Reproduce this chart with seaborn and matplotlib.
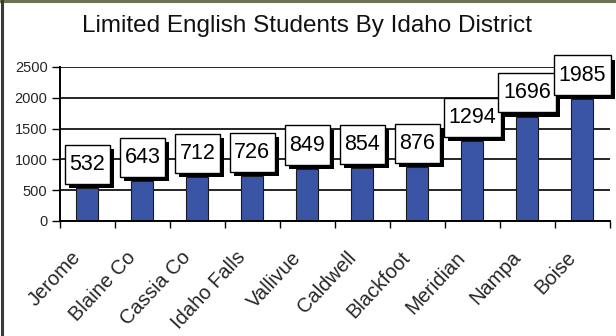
import matplotlib
matplotlib.use("Agg")
import matplotlib.pyplot as plt
import matplotlib.patheffects as pe
import matplotlib.transforms as mtransforms
from matplotlib.path import Path
from matplotlib.lines import Line2D
import seaborn as sns
import pandas as pd
import numpy as np

districts = ["Jerome", "Blaine Co", "Cassia Co", "Idaho Falls", "Vallivue",
             "Caldwell", "Blackfoot", "Meridian", "Nampa", "Boise"]
students = [532, 643, 712, 726, 849, 854, 876, 1294, 1696, 1985]
y_ticks = [0, 500, 1000, 1500, 2000, 2500]
title = "Limited English Students By Idaho District"

df = pd.DataFrame({"district": districts, "students": students})

sns.set_theme(style="white")
plt.rcParams["font.family"] = ["Liberation Sans", "DejaVu Sans"]

fig = plt.figure(figsize=(6.16, 3.36), dpi=100)
fig.patch.set_facecolor("white")
ax = fig.add_axes([60 / 616, 1 - 221 / 336, 549.5 / 616, 154 / 336])

sns.barplot(data=df, x="district", y="students", color="#3b55a6",
            saturation=1, width=0.4, edgecolor="#1a1a1a", linewidth=0.8,
            ax=ax, zorder=2)

ax.set_xlim(-0.5, len(districts) - 0.5)
ax.set_ylim(0, 2500)
ax.set_yticks(y_ticks)
ax.set_yticklabels([str(t) for t in y_ticks], fontsize=10.5)
ax.set_xlabel("")
ax.set_ylabel("")

# horizontal gridlines
ax.set_axisbelow(True)
ax.yaxis.grid(True, color="black", linewidth=1.2)
ax.xaxis.grid(False)

for side in ("top", "right"):
    ax.spines[side].set_visible(False)
for side in ("left", "bottom"):
    ax.spines[side].set_color("black")
    ax.spines[side].set_linewidth(1.4)

# category labels, tick marks at the category boundaries
ax.set_xticks(np.arange(len(districts)))
ax.set_xticklabels(districts, rotation=47, ha="right", va="center",
                   rotation_mode="anchor", fontsize=14.5)
ax.tick_params(axis="x", which="major", length=0, pad=24)
shift = mtransforms.ScaledTranslation(-7 / 72, 0, fig.dpi_scale_trans)
for lab in ax.get_xticklabels():
    lab.set_transform(lab.get_transform() + shift)
ax.set_xticks(np.arange(len(districts) + 1) - 0.5, minor=True)
ax.tick_params(axis="x", which="minor", length=5, width=1, color="black",
               direction="out", bottom=True)
ax.tick_params(axis="y", length=6, width=1, color="black", direction="out",
               left=True, pad=3)


def tall_box(x0, y0, width, height, mutation_size):
    px, py = 0.22 * mutation_size, 0.42 * mutation_size
    x0, y0 = x0 - px, y0 - py
    x1, y1 = x0 + width + 2 * px, y0 + height + 2 * py
    return Path([(x0, y0), (x1, y0), (x1, y1), (x0, y1), (x0, y0)],
                closed=True)


# value boxes with a drop shadow, sitting on top of each bar
for i, v in enumerate(students):
    ann = ax.annotate(str(v), xy=(i, v), xytext=(0, 9.5),
                      textcoords="offset points", ha="center", va="bottom",
                      fontsize=15.5, color="black", zorder=5,
                      annotation_clip=False,
                      bbox=dict(boxstyle=tall_box, fc="white", ec="black",
                                lw=1))
    ann.get_bbox_patch().set_path_effects(
        [pe.SimplePatchShadow(offset=(3, -3), shadow_rgbFace="black",
                              alpha=1.0),
         pe.Normal()])

fig.text(307 / 616, 1 - 26 / 336, title, ha="center", va="center",
         fontsize=17.5, color="#111111")

# frame edges along the top and left of the canvas
fig.add_artist(Line2D([0, 1], [1 - 1 / 336, 1 - 1 / 336],
                      transform=fig.transFigure, color="#6d7256", lw=2.2))
fig.add_artist(Line2D([1.5 / 616, 1.5 / 616], [0, 1],
                      transform=fig.transFigure, color="#3a3a3a", lw=2.2))

fig.savefig("out.png", dpi=100)
